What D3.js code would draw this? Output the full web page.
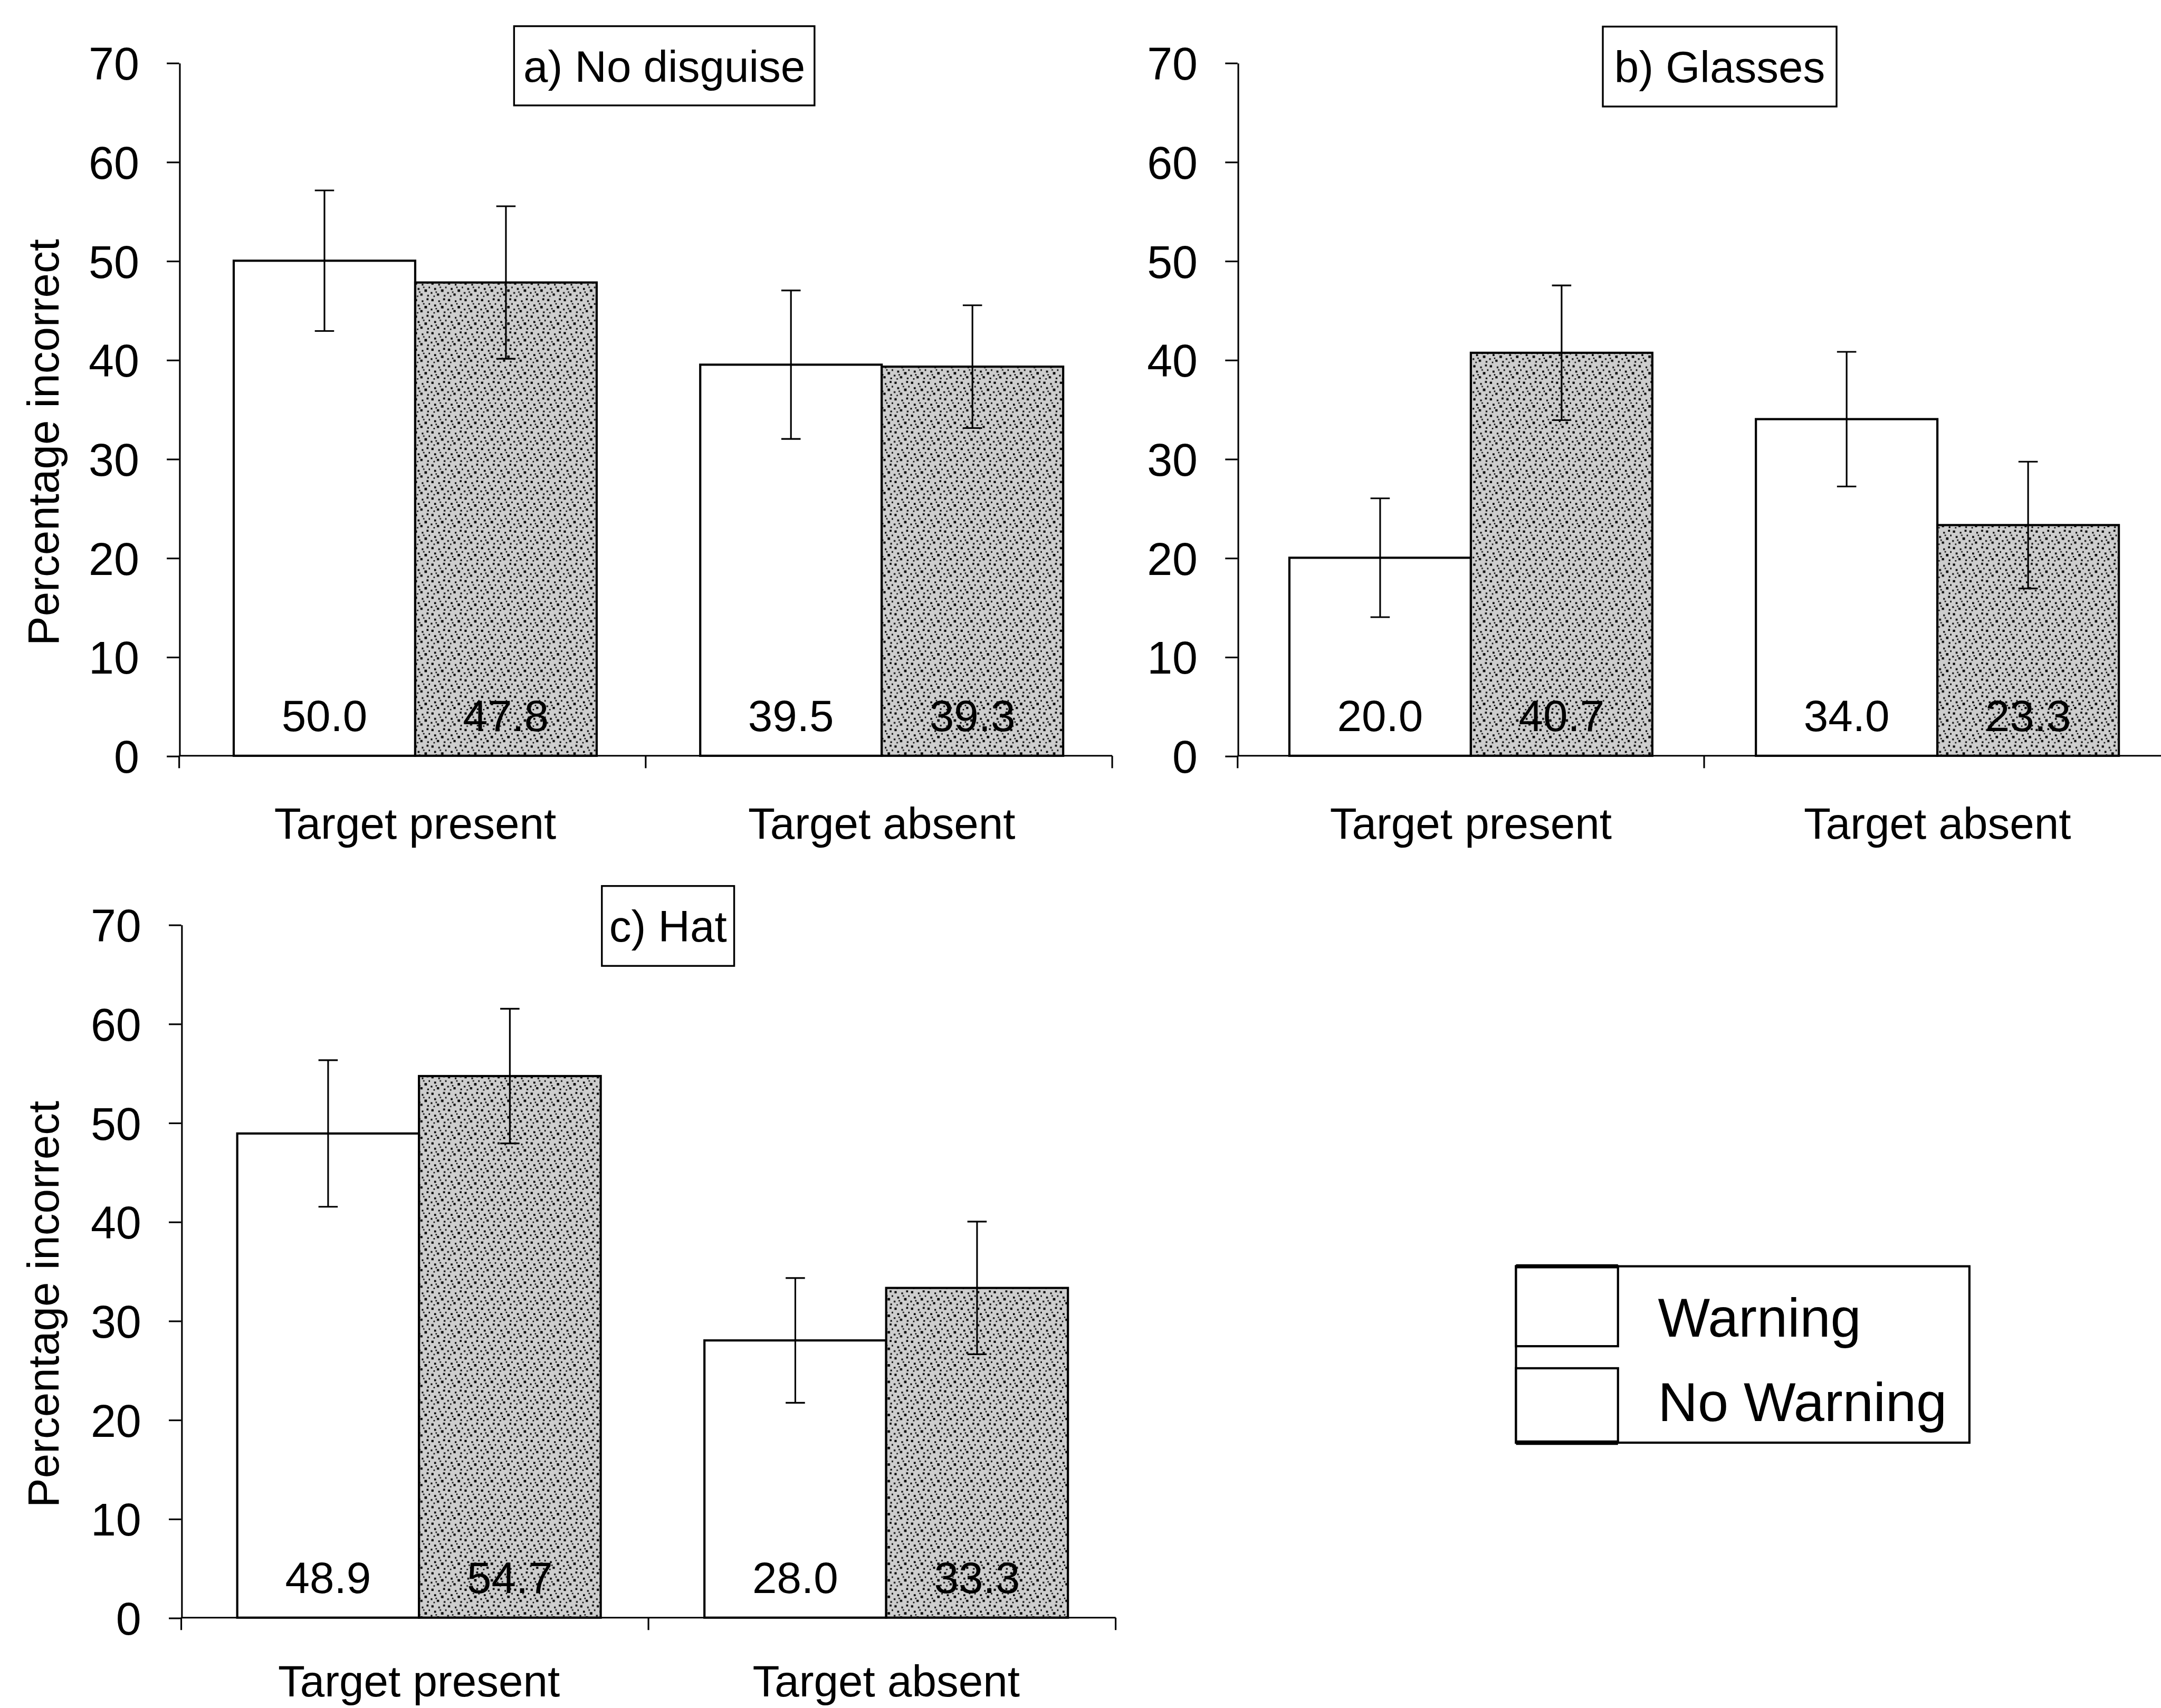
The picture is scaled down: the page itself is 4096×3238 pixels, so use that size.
<!DOCTYPE html>
<html>
<head>
<meta charset="utf-8">
<script src="https://cdn.jsdelivr.net/npm/d3@7"></script>
<style>
  html, body { margin: 0; padding: 0; background: #fff; }
  svg { display: block; }
  text { font-family: "Liberation Sans", Arial, sans-serif; fill: #000; }
</style>
</head>
<body>
<svg id="chart"></svg>
<script>
// ---- data ----
const panelTitles = ["a) No disguise", "b) Glasses", "c) Hat"];
const categories = ["Target present", "Target absent"];
const seriesNames = ["Warning", "No Warning"];
const warningPct = [[50.0, 39.5], [20.0, 34.0], [48.9, 28.0]];
const noWarningPct = [[47.8, 39.3], [40.7, 23.3], [54.7, 33.3]];
const warningErr = [[7.1, 7.5], [6.0, 6.8], [7.4, 6.3]];
const noWarningErr = [[7.7, 6.2], [6.8, 6.4], [6.8, 6.7]];
const yTicks = [0, 10, 20, 30, 40, 50, 60, 70];
const yTitle = "Percentage incorrect";

// ---- layout (drawing units: 1568 wide) ----
const W = 1568, H = 1239.57;
const panelLayout = [
  { x0: 130,   x1: 807,   yBottom: 548.5, yTop: 45.5, shift: 2, labelGap: 60,
    box: { x: 373,   y: 19,   w: 218,   h: 57.5 }, showYTitle: true },
  { x0: 898,   x1: 1575,  yBottom: 548.5, yTop: 45.5, shift: 0, labelGap: 60,
    box: { x: 1163,  y: 19.3, w: 169.6, h: 58 },   showYTitle: false },
  { x0: 131.5, x1: 809.5, yBottom: 1174,  yTop: 671,  shift: 3, labelGap: 57,
    box: { x: 436.7, y: 643,  w: 96,    h: 58 },   showYTitle: true }
];
const FONT = 32, TICK_FONT = 33, LEGEND_FONT = 40;

const svg = d3.select("#chart")
  .attr("width", 4096)
  .attr("height", 3238)
  .attr("viewBox", `0 0 ${W} ${H}`);

svg.append("rect").attr("width", W).attr("height", H).attr("fill", "#fff");

// stippled fill for the "No Warning" bars
const defs = svg.append("defs");
const pat = defs.append("pattern")
  .attr("id", "stipple")
  .attr("patternUnits", "userSpaceOnUse")
  .attr("width", 12).attr("height", 12);
pat.append("rect").attr("width", 12).attr("height", 12).attr("fill", "#cdcdcd");
const specks = [
  [1, 1, 1.6], [6, 2, 1.2], [9.5, 0.5, 1.4], [3, 5, 1.4], [8, 6, 1.8], [0.5, 8, 1.2],
  [5, 9, 1.6], [10, 10, 1.2], [2.5, 10.5, 1], [7, 4, 1], [11, 4, 1.2], [4, 7.5, 1]
];
pat.selectAll("rect.s").data(specks).join("rect")
  .attr("class", "s")
  .attr("x", d => d[0]).attr("y", d => d[1])
  .attr("width", d => d[2]).attr("height", d => d[2])
  .attr("fill", "#000");

const fmt = d3.format(".1f");

panelLayout.forEach((L, p) => {
  const g = svg.append("g");
  const y = d3.scaleLinear().domain([0, 70]).range([L.yBottom, L.yTop]);
  const x = d3.scaleBand().domain(categories)
    .range([L.x0 + L.shift, L.x1 + L.shift])
    .paddingInner(0.222).paddingOuter(0.111);
  const xs = d3.scaleBand().domain(seriesNames).range([0, x.bandwidth()]);

  const rows = [];
  categories.forEach((c, i) => {
    rows.push({ cat: c, series: seriesNames[0], v: warningPct[p][i], e: warningErr[p][i] });
    rows.push({ cat: c, series: seriesNames[1], v: noWarningPct[p][i], e: noWarningErr[p][i] });
  });

  // bars
  g.append("g").selectAll("rect").data(rows).join("rect")
    .attr("x", d => x(d.cat) + xs(d.series))
    .attr("y", d => y(d.v))
    .attr("width", xs.bandwidth())
    .attr("height", d => y(0) - y(d.v))
    .attr("fill", d => d.series === seriesNames[0] ? "#fff" : "url(#stipple)")
    .attr("stroke", "#000")
    .attr("stroke-width", 1.6);

  // value labels inside the bars
  g.append("g").selectAll("text").data(rows).join("text")
    .attr("x", d => x(d.cat) + xs(d.series) + xs.bandwidth() / 2)
    .attr("y", y(0) - 18)
    .attr("text-anchor", "middle")
    .attr("font-size", FONT)
    .text(d => fmt(d.v));

  // error bars
  const eb = g.append("g").attr("stroke", "#000").attr("stroke-width", 1.2);
  rows.forEach(d => {
    const cx = x(d.cat) + xs(d.series) + xs.bandwidth() / 2;
    const yHi = y(d.v + d.e), yLo = y(d.v - d.e);
    eb.append("line").attr("x1", cx).attr("x2", cx).attr("y1", yHi).attr("y2", yLo);
    eb.append("line").attr("x1", cx - 7).attr("x2", cx + 7).attr("y1", yHi).attr("y2", yHi);
    eb.append("line").attr("x1", cx - 7).attr("x2", cx + 7).attr("y1", yLo).attr("y2", yLo);
  });

  // y axis
  const ya = g.append("g")
    .attr("transform", `translate(${L.x0},0)`)
    .call(d3.axisLeft(y).tickValues(yTicks).tickSize(9).tickPadding(20).tickSizeOuter(0));
  ya.attr("font-family", null).attr("font-size", null);
  ya.selectAll("text").attr("font-size", TICK_FONT).attr("dy", "0.36em");
  ya.selectAll("line").attr("stroke-width", 1.2);
  ya.select(".domain").attr("stroke-width", 1.2);

  // x axis: baseline with category boundary ticks
  const xaLine = g.append("g").attr("stroke", "#000").attr("stroke-width", 1.2);
  xaLine.append("line")
    .attr("x1", L.x0).attr("x2", L.x1)
    .attr("y1", y(0)).attr("y2", y(0));
  const boundaries = [L.x0, x(categories[1]) - x.step() * x.paddingInner() / 2 - L.shift, L.x1];
  xaLine.selectAll("line.b").data(boundaries).join("line")
    .attr("class", "b")
    .attr("x1", d => d).attr("x2", d => d)
    .attr("y1", y(0)).attr("y2", y(0) + 9);

  const xa = g.append("g")
    .attr("transform", `translate(0,${y(0)})`)
    .call(d3.axisBottom(x).tickSize(0).tickPadding(L.labelGap - 0.71 * FONT));
  xa.attr("font-family", null).attr("font-size", null);
  xa.select(".domain").remove();
  xa.selectAll("text").attr("font-size", FONT);

  // y axis title
  if (L.showYTitle) {
    g.append("text")
      .attr("transform", `translate(42.5,${(L.yBottom + L.yTop) / 2 + 24}) rotate(-90)`)
      .attr("text-anchor", "middle")
      .attr("font-size", FONT)
      .text(yTitle);
  }

  // panel title in a box
  g.append("rect")
    .attr("x", L.box.x).attr("y", L.box.y)
    .attr("width", L.box.w).attr("height", L.box.h)
    .attr("fill", "#fff").attr("stroke", "#000").attr("stroke-width", 1.3);
  g.append("text")
    .attr("x", L.box.x + L.box.w / 2)
    .attr("y", L.box.y + L.box.h / 2 + 0.36 * FONT)
    .attr("text-anchor", "middle")
    .attr("font-size", FONT)
    .text(panelTitles[p]);
});

// legend
const lg = svg.append("g");
const legendBox = { x: 1100, y: 919, w: 329, h: 128 };
lg.append("rect")
  .attr("x", legendBox.x).attr("y", legendBox.y)
  .attr("width", legendBox.w).attr("height", legendBox.h)
  .attr("fill", "#fff").attr("stroke", "#000").attr("stroke-width", 1.6);
const swatches = [
  { y: 919, h: 58, ty: 970 },
  { y: 993, h: 54, ty: 1031.5 }
];
swatches.forEach((s, i) => {
  lg.append("rect")
    .attr("x", legendBox.x).attr("y", s.y)
    .attr("width", 74).attr("height", s.h)
    .attr("fill", "#fff").attr("stroke", "#000").attr("stroke-width", 1.6);
  lg.append("text")
    .attr("x", 1203).attr("y", s.ty)
    .attr("font-size", LEGEND_FONT)
    .text(seriesNames[i]);
});
// heavier rules along the outer swatch edges
lg.append("line").attr("x1", 1100).attr("x2", 1174).attr("y1", 919).attr("y2", 919)
  .attr("stroke", "#000").attr("stroke-width", 3);
lg.append("line").attr("x1", 1100).attr("x2", 1174).attr("y1", 1047).attr("y2", 1047)
  .attr("stroke", "#000").attr("stroke-width", 3.2);
</script>
</body>
</html>
